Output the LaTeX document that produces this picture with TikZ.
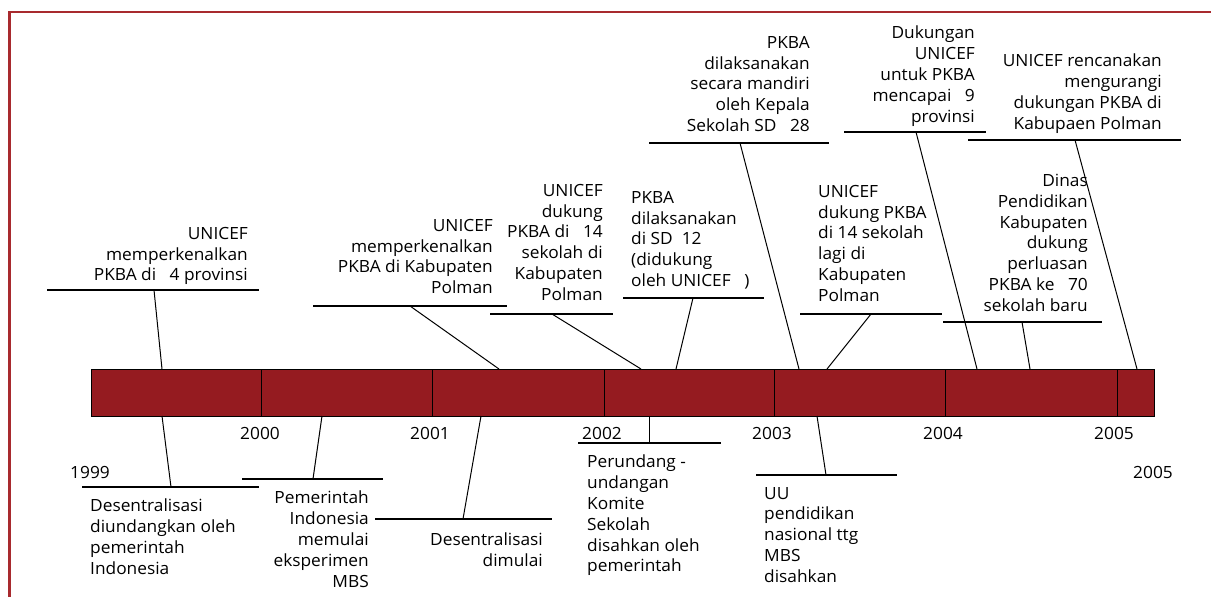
\documentclass[tikz,border=0pt]{standalone}
\usepackage{fontspec}
\setmainfont{Open Sans}[FakeStretch=1.03]
\definecolor{barred}{RGB}{149,27,32}
\definecolor{framered}{RGB}{168,42,46}
\tikzset{
  note/.style={inner sep=0pt, font=\fontsize{16.8}{20.8}\selectfont},
  year/.style={inner sep=0pt, font=\fontsize{16.8}{20.8}\selectfont},
  rule/.style={line width=1.3pt},
  stem/.style={line width=1pt}
}
\begin{document}
\begin{tikzpicture}[x=1pt,y=-1pt]
  \useasboundingbox (0,0) rectangle (1211,597);

  \draw[framered, line width=2.6pt] (9.5,597) -- (9.5,12) -- (1211,12);

  \draw[fill=barred, line width=1pt] (91,369) rectangle (1154,416);
  \foreach \x in {261,432,604,774,945,1117}
    \draw[line width=1pt] (\x,369) -- (\x,416);

  \node[year] (y1999) at (90,472) {1999};
  \node[year] (y2000) at (260,433) {2000};
  \node[year] (y2001) at (430,433) {2001};
  \node[year] (y2002) at (602,433) {2002};
  \node[year] (y2003) at (772,433) {2003};
  \node[year] (y2004) at (943,433) {2004};
  \node[year] (y2005) at (1114,433) {2005};
  \node[year] (y2005b) at (1153,472) {2005};

  % above the bar
  \node[note, anchor=north east, align=right] (t99) at (248,227)
    {UNICEF\\memperkenalkan\\PKBA di\ \ \ 4 provinsi};
  \node[note, anchor=north east, align=right] (t00) at (493,219)
    {UNICEF\\memperkenalkan\\PKBA di Kabupaten\\Polman};
  \node[note, anchor=north east, align=right] (t01) at (603,184)
    {UNICEF\\dukung\\PKBA di\ \ \ 14\\sekolah di\\Kabupaten\\Polman};
  \node[note, anchor=north west, align=left] (t02a) at (631,191)
    {PKBA\\dilaksanakan\\di SD\ \ 12\\(didukung\\oleh UNICEF\ \ \ )};
  \node[note, anchor=north east, align=right] (t02b) at (810,36)
    {PKBA\\dilaksanakan\\secara mandiri\\oleh Kepala\\Sekolah SD\ \ \ 28};
  \node[note, anchor=north east, align=right] (t03a) at (975,26)
    {Dukungan\\UNICEF\\untuk PKBA\\mencapai\ \ \ 9\\provinsi};
  \node[note, anchor=north west, align=left] (t03b) at (818,185)
    {UNICEF\\dukung PKBA\\di 14 sekolah\\lagi di\\Kabupaten\\Polman};
  \node[note, anchor=north east, align=right] (t04a) at (1162,54)
    {UNICEF rencanakan\\mengurangi\\dukungan PKBA di\\Kabupaen Polman};
  \node[note, anchor=north east, align=right] (t04b) at (1088,174)
    {Dinas\\Pendidikan\\Kabupaten\\dukung\\perluasan\\PKBA ke\ \ \ 70\\sekolah baru};

  \draw[rule] (47,290) -- (259,290);
  \draw[rule] (313,306) -- (507,306);
  \draw[rule] (490,314) -- (613,314);
  \draw[rule] (623,298) -- (764,298);
  \draw[rule] (649,143) -- (829,143);
  \draw[rule] (844,132) -- (986,132);
  \draw[rule] (800,314) -- (942,314);
  \draw[rule] (968,140) -- (1181,140);
  \draw[rule] (943,322) -- (1102,322);

  \coordinate (t99a) at (154,290);  \coordinate (t99b) at (162,369);
  \coordinate (t00a) at (410,306);  \coordinate (t00b) at (499,369);
  \coordinate (t01a) at (552,314);  \coordinate (t01b) at (641,369);
  \coordinate (t02aa) at (693,298); \coordinate (t02ab) at (676,369);
  \coordinate (t02ba) at (740,143); \coordinate (t02bb) at (799,369);
  \coordinate (t03aa) at (916,132); \coordinate (t03ab) at (977,369);
  \coordinate (t03ba) at (871,314); \coordinate (t03bb) at (827,369);
  \coordinate (t04aa) at (1075,140); \coordinate (t04ab) at (1137,369);
  \coordinate (t04ba) at (1022,322); \coordinate (t04bb) at (1030,369);

  \draw[stem] (t99a) -- (t99b);
  \draw[stem] (t00a) -- (t00b);
  \draw[stem] (t01a) -- (t01b);
  \draw[stem] (t02aa) -- (t02ab);
  \draw[stem] (t02ba) -- (t02bb);
  \draw[stem] (t03aa) -- (t03ab);
  \draw[stem] (t03ba) -- (t03bb);
  \draw[stem] (t04aa) -- (t04ab);
  \draw[stem] (t04ba) -- (t04bb);

  % below the bar
  \node[note, anchor=north west, align=left] (b99) at (90,499)
    {Desentralisasi\\diundangkan oleh\\pemerintah\\Indonesia};
  \node[note, anchor=north east, align=right] (b00) at (369,491)
    {Pemerintah\\Indonesia\\memulai\\eksperimen\\MBS};
  \node[note, anchor=north east, align=right] (b01) at (543,533)
    {Desentralisasi\\dimulai};
  \node[note, anchor=north west, align=left] (b02) at (587,455)
    {Perundang -\\undangan\\Komite\\Sekolah\\disahkan oleh\\pemerintah};
  \node[note, anchor=north west, align=left] (b03) at (764,487)
    {UU\\pendidikan\\nasional ttg\\MBS\\disahkan};

  \draw[rule] (82,487) -- (259,487);
  \draw[rule] (242,479) -- (383,479);
  \draw[rule] (375,519) -- (552,519);
  \draw[rule] (578,443) -- (721,443);
  \draw[rule, line width=2pt] (756,475) -- (897,475);

  \coordinate (b99a) at (162,416);  \coordinate (b99b) at (171,487);
  \coordinate (b00a) at (322,416);  \coordinate (b00b) at (313,479);
  \coordinate (b01a) at (481,416);  \coordinate (b01b) at (463,519);
  \coordinate (b02a) at (649,416);  \coordinate (b02b) at (649,443);
  \coordinate (b03a) at (817,416);  \coordinate (b03b) at (826,475);

  \draw[stem] (b99a) -- (b99b);
  \draw[stem] (b00a) -- (b00b);
  \draw[stem] (b01a) -- (b01b);
  \draw[stem] (b02a) -- (b02b);
  \draw[stem] (b03a) -- (b03b);
\end{tikzpicture}
\end{document}
